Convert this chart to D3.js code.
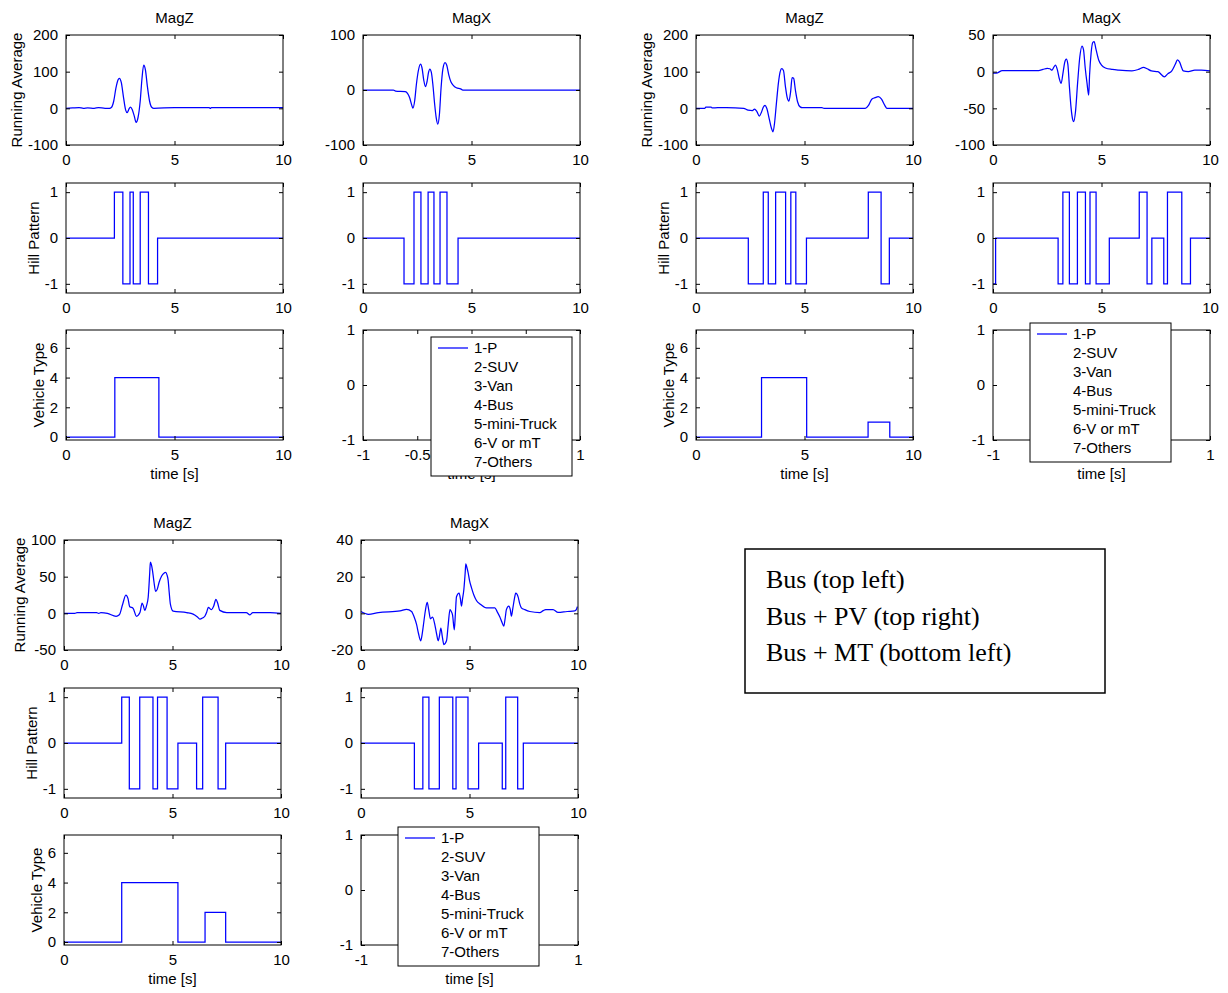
<!DOCTYPE html>
<html><head><meta charset="utf-8">
<script src="https://cdn.jsdelivr.net/npm/d3@7"></script>
<style>
body{margin:0;background:#fff}
svg{display:block}
</style>
</head><body>
<svg id="c" width="1228" height="993"></svg>
<script>
// ---------------- DATA ----------------
const timeTicks = [0, 5, 10];
const hillTicks = [-1, 0, 1];
const typeTicks = [0, 2, 4, 6];
const legendXTicks = [-1, -0.5, 0, 0.5, 1];
const legendYTicks = [-1, 0, 1];
const legendLabels = ["1-P", "2-SUV", "3-Van", "4-Bus", "5-mini-Truck", "6-V or mT", "7-Others"];
const noteLines = ["Bus (top left)", "Bus + PV (top right)", "Bus + MT (bottom left)"];

// Group 1: Bus
const busMagZ = [[0,0],[0.3,1],[0.6,2],[0.8,0],[1.0,1],[1.3,0],[1.5,2],[1.8,0],[2.0,0],[2.1,3],[2.2,20],[2.3,55],[2.4,78],[2.46,82],[2.55,70],[2.65,30],[2.75,-5],[2.82,-12],[2.9,-2],[2.97,3],[3.05,-3],[3.15,-22],[3.23,-38],[3.32,-25],[3.42,20],[3.5,80],[3.58,118],[3.66,105],[3.75,60],[3.85,20],[3.95,3],[4.05,0],[5,2],[6.6,2],[6.65,0],[6.7,2],[10,2]];
const busMagX = [[0,0],[1.4,0],[1.5,-2],[1.95,-3],[2.05,-6],[2.15,-14],[2.25,-28],[2.3,-33],[2.38,-20],[2.46,10],[2.55,35],[2.65,47],[2.72,40],[2.8,18],[2.88,6],[2.95,15],[3.02,32],[3.08,38],[3.15,32],[3.22,10],[3.3,-25],[3.38,-52],[3.45,-62],[3.52,-45],[3.6,5],[3.68,38],[3.78,50],[3.86,45],[3.95,28],[4.05,15],[4.15,9],[4.3,4],[4.5,2],[4.6,0],[10,0]];
const busHillZ_t = [0,2.23,2.62,2.95,3.1,3.42,3.8,4.22];
const busHillZ_v = [0,1,-1,1,-1,1,-1,0];
const busHillX_t = [0,1.89,2.35,2.67,3.0,3.27,3.55,3.87,4.38];
const busHillX_v = [0,-1,1,-1,1,-1,1,-1,0];
const busType_t = [0,2.25,4.28];
const busType_v = [0,4,0];

// Group 2: Bus + PV
const pvMagZ = [[0,0],[0.4,0],[0.45,3],[0.7,3],[0.75,1],[1.0,2],[1.4,2],[2.2,0],[2.4,-5],[2.6,-6],[2.7,-2],[2.8,-8],[2.92,-21],[3.02,-10],[3.1,3],[3.18,8],[3.26,0],[3.38,-30],[3.48,-55],[3.55,-64],[3.62,-40],[3.7,10],[3.8,70],[3.88,100],[3.95,108],[4.03,103],[4.12,60],[4.2,30],[4.28,20],[4.36,45],[4.43,84],[4.5,82],[4.58,50],[4.68,18],[4.8,4],[4.9,2],[5.8,2],[5.9,0],[7.8,0],[7.95,8],[8.1,25],[8.25,29],[8.4,32],[8.55,25],[8.7,8],[8.8,0],[10,0]];
const pvMagX = [[0,-2],[0.15,-2],[0.43,1.5],[2.1,1.5],[2.3,3],[2.5,4.5],[2.62,4],[2.72,2],[2.8,6],[2.88,9],[2.97,2],[3.06,-10],[3.14,-16],[3.22,-3],[3.3,12],[3.38,17],[3.45,10],[3.52,-20],[3.6,-50],[3.68,-66],[3.72,-68],[3.8,-55],[3.9,-15],[4.0,20],[4.1,35],[4.17,30],[4.25,5],[4.33,-15],[4.41,-32],[4.45,-5],[4.52,25],[4.6,40],[4.66,41],[4.75,30],[4.87,16],[5.0,9],[5.18,5],[5.5,3],[5.8,2],[6.4,1],[6.7,3],[6.94,6],[7.1,4],[7.3,1],[7.6,0],[7.9,-7],[8.05,-3],[8.24,1],[8.4,10],[8.5,16],[8.6,13],[8.7,5],[8.77,1],[9.0,0],[9.3,2],[9.6,2],[10,1]];
const pvHillZ_t = [0,2.41,3.1,3.33,3.67,4.13,4.37,4.6,5.09,7.94,8.53,8.91];
const pvHillZ_v = [0,-1,1,-1,1,-1,1,-1,0,1,-1,0];
const pvHillX_t = [0,0.12,3.0,3.22,3.52,3.89,4.26,4.47,4.75,5.36,6.74,7.1,7.32,7.87,8.04,8.7,9.1];
const pvHillX_v = [-1,0,-1,1,-1,1,-1,1,-1,0,1,-1,0,-1,1,-1,0];
const pvType_t = [0,3.02,5.1,7.93,8.93];
const pvType_v = [0,4,0,1,0];

// Group 3: Bus + MT
const mtMagZ = [[0,0],[0.5,0],[0.6,1],[1.5,1],[1.6,0],[1.7,1],[2.0,0],[2.4,-4],[2.55,-2],[2.7,12],[2.85,25],[2.95,20],[3.03,9],[3.18,7],[3.34,-4],[3.5,1],[3.6,14],[3.66,10],[3.72,4],[3.8,10],[3.88,22],[3.95,55],[3.98,70],[4.03,66],[4.08,58],[4.15,42],[4.22,30],[4.3,33],[4.38,42],[4.5,51],[4.62,55],[4.68,56],[4.75,52],[4.8,45],[4.85,28],[4.9,13],[5.03,3],[5.65,1],[5.95,-1],[6.15,-5],[6.26,-8],[6.4,-6],[6.49,-4],[6.58,2],[6.65,8],[6.8,5],[6.9,10],[7.0,19],[7.08,14],[7.18,4],[7.5,1],[8.4,1],[8.57,-2],[8.7,1],[9.5,1],[10,0]];
const mtMagX = [[0,1],[0.34,-0.5],[0.8,0.4],[1.8,1.3],[2.1,2.2],[2.33,1],[2.45,-2],[2.56,-6],[2.65,-11],[2.75,-15],[2.81,-12],[2.87,-7],[2.96,1],[3.05,6],[3.12,2],[3.2,-3],[3.3,-2],[3.4,-6],[3.48,-11],[3.56,-15],[3.62,-12],[3.68,-8],[3.75,-13],[3.82,-17],[3.94,-15],[4.02,-6],[4.1,2],[4.16,1],[4.22,-1],[4.3,-9],[4.35,0],[4.4,9],[4.52,11],[4.58,8],[4.63,4],[4.68,8],[4.74,13],[4.8,22],[4.83,27],[4.88,25],[4.94,22],[5.0,18],[5.09,14],[5.2,10],[5.32,7],[5.5,5],[5.78,3],[6.17,3],[6.27,1],[6.4,-2],[6.5,-5],[6.58,-7],[6.64,-3],[6.7,2],[6.81,4],[6.88,2],[6.93,-1.5],[7.0,3],[7.07,8],[7.13,11],[7.24,9],[7.32,5],[7.39,3],[7.55,2],[7.78,1],[8.24,0.4],[8.4,1.5],[8.51,2],[8.85,2],[9.08,0.5],[9.5,1],[9.85,1.3],[9.92,2],[9.97,3.7]];
const mtHillZ_t = [0,2.66,3.01,3.49,4.1,4.31,4.75,5.25,6.11,6.39,7.1,7.45];
const mtHillZ_v = [0,1,-1,1,-1,1,-1,0,-1,1,-1,0];
const mtHillX_t = [0,2.46,2.85,3.13,3.61,4.23,4.38,4.93,5.42,6.51,6.67,7.22,7.48];
const mtHillX_v = [0,-1,1,-1,1,-1,1,-1,0,-1,1,-1,0];
const mtType_t = [0,2.66,5.25,6.5,7.45];
const mtType_v = [0,4,0,2,0];

// ---------------- DRAWING ----------------
const svg = d3.select("#c");
const BLUE = "#0000ff";
const PW = 217, PH = 110, FS = 15;
const LW = 141, LH = 139;
const SANS = "'Liberation Sans', Arial, sans-serif";
const SERIF = "'Liberation Serif', 'Times New Roman', serif";
const fmt = d => String(d); // plain hyphen-minus like MATLAB

function txt(sel) { return sel.style("font-family", SANS).style("font-size", FS + "px").attr("fill", "#000"); }

function panel(o) {
  const g = svg.append("g").attr("transform", `translate(${o.left},${o.top})`);
  const x = d3.scaleLinear().domain(o.xd).range([0, PW]);
  const y = d3.scaleLinear().domain(o.yd).range([PH, 0]);
  g.append("rect").attr("width", PW).attr("height", PH).attr("fill", "#fff");
  const content = g.append("g");
  const ax = g.append("g");
  const tl = 4;
  const xa = d3.axisBottom(x).tickValues(o.xt).tickSizeInner(-tl).tickSizeOuter(0).tickPadding(5 + tl).tickFormat(fmt);
  const xaT = d3.axisTop(x).tickValues(o.xt).tickSizeInner(-tl).tickSizeOuter(0).tickFormat("");
  const ya = d3.axisLeft(y).tickValues(o.yt).tickSizeInner(-tl).tickSizeOuter(0).tickPadding(4 + tl).tickFormat(fmt);
  const yaR = d3.axisRight(y).tickValues(o.yt).tickSizeInner(-tl).tickSizeOuter(0).tickFormat("");
  const gxa = ax.append("g").attr("transform", `translate(0,${PH})`).call(xa);
  ax.append("g").call(xaT);
  const gy = ax.append("g").call(ya);
  ax.append("g").attr("transform", `translate(${PW},0)`).call(yaR);
  ax.selectAll(".domain").remove();
  ax.selectAll("line").attr("stroke", "#000");
  txt(ax.selectAll("text"));
  // tick labels lying entirely under the legend box are not visible in the original
  if (o.hideX) gxa.selectAll(".tick").filter(d => o.hideX(x(d))).select("text").remove();
  g.append("rect").attr("width", PW).attr("height", PH).attr("fill", "none").attr("stroke", "#000").attr("stroke-width", 1);
  if (o.title) txt(g.append("text").attr("x", PW / 2).attr("y", -12).attr("text-anchor", "middle")).text(o.title);
  if (o.xlabel) txt(g.append("text").attr("x", PW / 2).attr("y", PH + 39).attr("text-anchor", "middle")).text(o.xlabel);
  if (o.ylabel) {
    let maxW = 0;
    gy.selectAll("text").each(function () { maxW = Math.max(maxW, this.getComputedTextLength()); });
    txt(g.append("text").attr("transform", `translate(${-(maxW + 14)},${PH / 2}) rotate(-90)`)
      .attr("text-anchor", "middle")).text(o.ylabel);
  }
  return { g, x, y, content };
}

function drawCurve(p, data) {
  const line = d3.line().x(d => p.x(d[0])).y(d => p.y(d[1])).curve(d3.curveMonotoneX);
  p.content.append("path").datum(data).attr("d", line)
    .attr("fill", "none").attr("stroke", BLUE).attr("stroke-width", 1.25).attr("stroke-linejoin", "round");
}
function drawStep(p, ts, vs) {
  const data = ts.map((t, i) => [t, vs[i]]);
  data.push([10, vs[vs.length - 1]]);
  const line = d3.line().x(d => p.x(d[0])).y(d => p.y(d[1])).curve(d3.curveStepAfter);
  p.content.append("path").datum(data).attr("d", line)
    .attr("fill", "none").attr("stroke", BLUE).attr("stroke-width", 1.25);
}

function group(gx, gy, d, leg) {
  const cA = gx, cB = gx + 297;
  const r1 = gy, r2 = gy + 148, r3 = gy + 295;
  const pZ = panel({ left: cA, top: r1, xd: [0, 10], yd: d.zd, xt: timeTicks, yt: d.zt, title: "MagZ", ylabel: "Running Average" });
  drawCurve(pZ, d.magZ);
  const pX = panel({ left: cB, top: r1, xd: [0, 10], yd: d.xd, xt: timeTicks, yt: d.xt, title: "MagX" });
  drawCurve(pX, d.magX);
  const hZ = panel({ left: cA, top: r2, xd: [0, 10], yd: [-1.2, 1.2], xt: timeTicks, yt: hillTicks, ylabel: "Hill Pattern" });
  drawStep(hZ, d.hzt, d.hzv);
  const hX = panel({ left: cB, top: r2, xd: [0, 10], yd: [-1.2, 1.2], xt: timeTicks, yt: hillTicks });
  drawStep(hX, d.hxt, d.hxv);
  const vT = panel({ left: cA, top: r3, xd: [0, 10], yd: [-0.2, 7.2], xt: timeTicks, yt: typeTicks, xlabel: "time [s]", ylabel: "Vehicle Type" });
  drawStep(vT, d.tt, d.tv);
  panel({ left: cB, top: r3, xd: [-1, 1], yd: [-1, 1], xt: legendXTicks, yt: legendYTicks, xlabel: "time [s]",
    hideX: px => px > leg[0] + 8 && px < leg[0] + LW - 8 });
  const lg = svg.append("g").attr("transform", `translate(${cB + leg[0]},${r3 + leg[1]})`);
  lg.append("rect").attr("width", LW).attr("height", LH).attr("fill", "#fff").attr("stroke", "#000").attr("stroke-width", 1);
  legendLabels.forEach((lab, i) => {
    const yy = 11 + i * 19;
    if (i === 0) lg.append("line").attr("x1", 7).attr("x2", 37).attr("y1", yy).attr("y2", yy).attr("stroke", BLUE).attr("stroke-width", 1.25);
    txt(lg.append("text").attr("x", 43).attr("y", yy + 5)).text(lab);
  });
}

group(66, 35, { magZ: busMagZ, magX: busMagX, zd: [-100, 200], zt: [-100, 0, 100, 200], xd: [-100, 100], xt: [-100, 0, 100],
  hzt: busHillZ_t, hzv: busHillZ_v, hxt: busHillX_t, hxv: busHillX_v, tt: busType_t, tv: busType_v }, [68, 7]);
group(696, 35, { magZ: pvMagZ, magX: pvMagX, zd: [-100, 200], zt: [-100, 0, 100, 200], xd: [-100, 50], xt: [-100, -50, 0, 50],
  hzt: pvHillZ_t, hzv: pvHillZ_v, hxt: pvHillX_t, hxv: pvHillX_v, tt: pvType_t, tv: pvType_v }, [37, -7]);
group(64, 540, { magZ: mtMagZ, magX: mtMagX, zd: [-50, 100], zt: [-50, 0, 50, 100], xd: [-20, 40], xt: [-20, 0, 20, 40],
  hzt: mtHillZ_t, hzv: mtHillZ_v, hxt: mtHillX_t, hxv: mtHillX_v, tt: mtType_t, tv: mtType_v }, [37, -8]);

// note box
const nb = svg.append("g").attr("transform", "translate(745,549)");
nb.append("rect").attr("width", 360).attr("height", 144).attr("fill", "#fff").attr("stroke", "#000").attr("stroke-width", 1.5);
noteLines.forEach((t, i) => {
  nb.append("text").attr("x", 21).attr("y", 39 + i * 36.5)
    .style("font-family", SERIF).style("font-size", "26px").attr("fill", "#000").text(t);
});
</script>
</body></html>
